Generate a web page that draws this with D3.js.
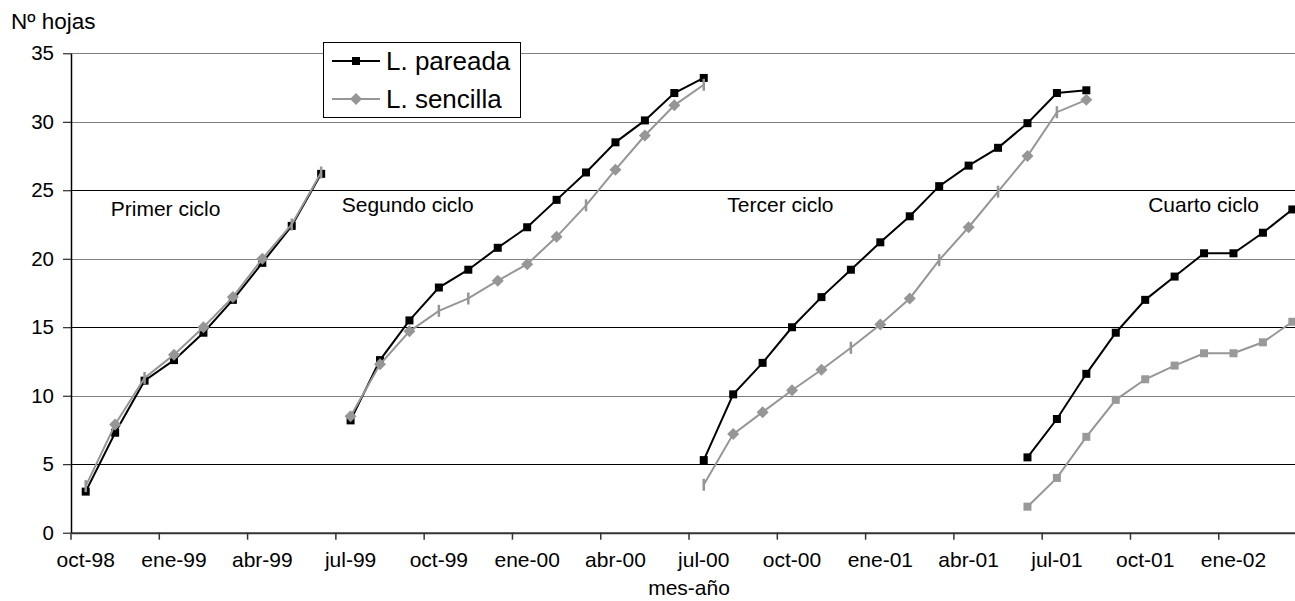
<!DOCTYPE html>
<html>
<head>
<meta charset="utf-8">
<script src="https://cdn.jsdelivr.net/npm/d3@7"></script>
<style>
  body { margin: 0; background: #fff; }
  text { font-family: "Liberation Sans", Arial, sans-serif; fill: #000; }
</style>
</head>
<body>
<svg id="chart" width="1295" height="601"></svg>
<script>
// categorias del eje x: un mes por banda
const meses = ["oct-98","nov-98","dic-98",
  "ene-99","feb-99","mar-99","abr-99","may-99","jun-99","jul-99","ago-99","sep-99","oct-99","nov-99","dic-99",
  "ene-00","feb-00","mar-00","abr-00","may-00","jun-00","jul-00","ago-00","sep-00","oct-00","nov-00","dic-00",
  "ene-01","feb-01","mar-01","abr-01","may-01","jun-01","jul-01","ago-01","sep-01","oct-01","nov-01","dic-01",
  "ene-02","feb-02","mar-02"];
const etiquetasX = ["oct-98","ene-99","abr-99","jul-99","oct-99","ene-00","abr-00","jul-00",
  "oct-00","ene-01","abr-01","jul-01","oct-01","ene-02"];
const ticksY = [0, 5, 10, 15, 20, 25, 30, 35];

// un ciclo por fila, empieza en el mes de "inicio"
const ciclos = ["Primer ciclo", "Segundo ciclo", "Tercer ciclo", "Cuarto ciclo"];
const inicio = ["oct-98", "jul-99", "jul-00", "jun-01"];

const pareada = [
  [3.0, 7.3, 11.1, 12.6, 14.6, 17.0, 19.7, 22.4, 26.2],
  [8.2, 12.6, 15.5, 17.9, 19.2, 20.8, 22.3, 24.3, 26.3, 28.5, 30.1, 32.1, 33.2],
  [5.3, 10.1, 12.4, 15.0, 17.2, 19.2, 21.2, 23.1, 25.3, 26.8, 28.1, 29.9, 32.1, 32.3],
  [5.5, 8.3, 11.6, 14.6, 17.0, 18.7, 20.4, 20.4, 21.9, 23.6]
];
const sencilla = [
  [3.4, 7.9, 11.3, 13.0, 15.0, 17.2, 20.0, 22.5, 26.3],
  [8.5, 12.3, 14.7, 16.2, 17.1, 18.4, 19.6, 21.6, 23.9, 26.5, 29.0, 31.2, 32.7],
  [3.5, 7.2, 8.8, 10.4, 11.9, 13.5, 15.2, 17.1, 19.9, 22.3, 24.9, 27.5, 30.7, 31.6],
  [1.9, 4.0, 7.0, 9.7, 11.2, 12.2, 13.1, 13.1, 13.9, 15.4]
];
// puntos de L. sencilla que salen como una raya en el original
const sencillaRaya = [[0, 2, 7, 8], [3, 4, 8, 12], [0, 5, 8, 10, 12], []];
const formaSencilla = ["rombo", "rombo", "rombo", "cuadro"];

// posicion de los rotulos de ciclo (mes, valor)
const rotuloMes = [1.35, 9.2, 22.3, 36.6];
const rotuloValor = [23.1, 23.45, 23.45, 23.45];

const gridGris = [35, 30, 20, 10];

const negro = "#000", gris = "#969696";
const margenIzq = 71, margenSup = 53.3, margenInf = 532.7, mesAncho = 29.43;

const svg = d3.select("#chart");

const x = d3.scaleBand().domain(meses).range([margenIzq, margenIzq + meses.length * mesAncho]).padding(0);
const y = d3.scaleLinear().domain([0, 35]).range([margenInf, margenSup]);
const cx = m => x(m) + x.bandwidth() / 2;

// lineas de division
svg.append("g").selectAll("line")
  .data(ticksY.filter(v => v > 0))
  .enter().append("line")
  .attr("x1", margenIzq).attr("x2", margenIzq + meses.length * mesAncho)
  .attr("y1", d => Math.round(y(d)) + 0.5).attr("y2", d => Math.round(y(d)) + 0.5)
  .attr("stroke", d => gridGris.includes(d) ? "#808080" : "#000")
  .attr("stroke-width", 1);

// eje y
const ejeY = svg.append("g")
  .attr("transform", "translate(" + margenIzq + ",0)")
  .call(d3.axisLeft(y).tickValues(ticksY).tickSize(8).tickPadding(9).tickSizeOuter(0));
ejeY.select(".domain").attr("stroke", "#000").attr("stroke-width", 1.5);
ejeY.selectAll(".tick line").attr("stroke", "#000");
ejeY.selectAll(".tick text").style("font-size", "20.5px").attr("fill", "#000");

// eje x: rotulos centrados en el mes, marcas en el borde del mes
const ejeX = svg.append("g")
  .attr("transform", "translate(0," + margenInf + ")")
  .call(d3.axisBottom(x).tickValues(etiquetasX).tickSize(0).tickPadding(19).tickSizeOuter(0));
ejeX.select(".domain").attr("stroke", "#333").attr("stroke-width", 2);
ejeX.selectAll(".tick text").style("font-size", "21px").attr("fill", "#000");
ejeX.selectAll(".marca")
  .data(etiquetasX)
  .enter().append("line")
  .attr("class", "marca")
  .attr("x1", d => x(d)).attr("x2", d => x(d))
  .attr("y1", 0).attr("y2", 7)
  .attr("stroke", "#333").attr("stroke-width", 1.5);

svg.append("text").attr("x", 11).attr("y", 29).style("font-size", "22.5px").text("Nº hojas");
svg.append("text").attr("x", margenIzq + meses.length * mesAncho / 2).attr("y", 595)
  .attr("text-anchor", "middle").style("font-size", "21px").text("mes-año");

// rotulos de ciclo
svg.append("g").selectAll("text")
  .data(ciclos)
  .enter().append("text")
  .attr("x", (d, i) => margenIzq + rotuloMes[i] * mesAncho)
  .attr("y", (d, i) => y(rotuloValor[i]))
  .style("font-size", "21px")
  .text(d => d);

const linea = d3.line().x(d => cx(d.m)).y(d => y(d.v));
const puntos = (serie, c) => serie[c].map((v, i) => ({ m: meses[meses.indexOf(inicio[c]) + i], v: v, i: i }));

function cuadro(g, d, color, lado) {
  g.append("rect")
    .attr("x", cx(d.m) - lado / 2).attr("y", y(d.v) - lado / 2)
    .attr("width", lado).attr("height", lado).attr("fill", color);
}

// L. pareada
pareada.forEach((s, c) => {
  const pts = puntos(pareada, c);
  const g = svg.append("g");
  g.append("path").datum(pts).attr("d", linea)
    .attr("fill", "none").attr("stroke", negro).attr("stroke-width", 2);
  pts.forEach(d => cuadro(g, d, negro, 8));
});

// L. sencilla
sencilla.forEach((s, c) => {
  const pts = puntos(sencilla, c);
  const g = svg.append("g");
  g.append("path").datum(pts).attr("d", linea)
    .attr("fill", "none").attr("stroke", gris).attr("stroke-width", 2);
  pts.forEach(d => {
    if (sencillaRaya[c].includes(d.i)) {
      g.append("rect").attr("x", cx(d.m) - 1.25).attr("y", y(d.v) - 6)
        .attr("width", 2.5).attr("height", 12).attr("fill", gris);
    } else if (formaSencilla[c] === "cuadro") {
      cuadro(g, d, "#999", 8);
    } else {
      g.append("path")
        .attr("d", d3.symbol().type(d3.symbolSquare).size(72))
        .attr("transform", "translate(" + cx(d.m) + "," + y(d.v) + ") rotate(45)")
        .attr("fill", gris);
    }
  });
});

// leyenda
const ley = svg.append("g");
ley.append("rect").attr("x", 323.5).attr("y", 42.5).attr("width", 197).attr("height", 75)
  .attr("fill", "#fff").attr("stroke", "#000").attr("stroke-width", 1);
const items = [
  { nombre: "L. pareada", color: negro, yy: 61 },
  { nombre: "L. sencilla", color: gris, yy: 99 }
];
items.forEach((it, k) => {
  ley.append("line").attr("x1", 332).attr("x2", 380).attr("y1", it.yy).attr("y2", it.yy)
    .attr("stroke", it.color).attr("stroke-width", 2);
  if (k === 0) {
    ley.append("rect").attr("x", 352).attr("y", it.yy - 4).attr("width", 8).attr("height", 8).attr("fill", negro);
  } else {
    ley.append("path").attr("d", d3.symbol().type(d3.symbolSquare).size(72))
      .attr("transform", "translate(356," + it.yy + ") rotate(45)").attr("fill", gris);
  }
  ley.append("text").attr("x", 386).attr("y", it.yy + 9).style("font-size", "26px").text(it.nombre);
});
</script>
</body>
</html>
